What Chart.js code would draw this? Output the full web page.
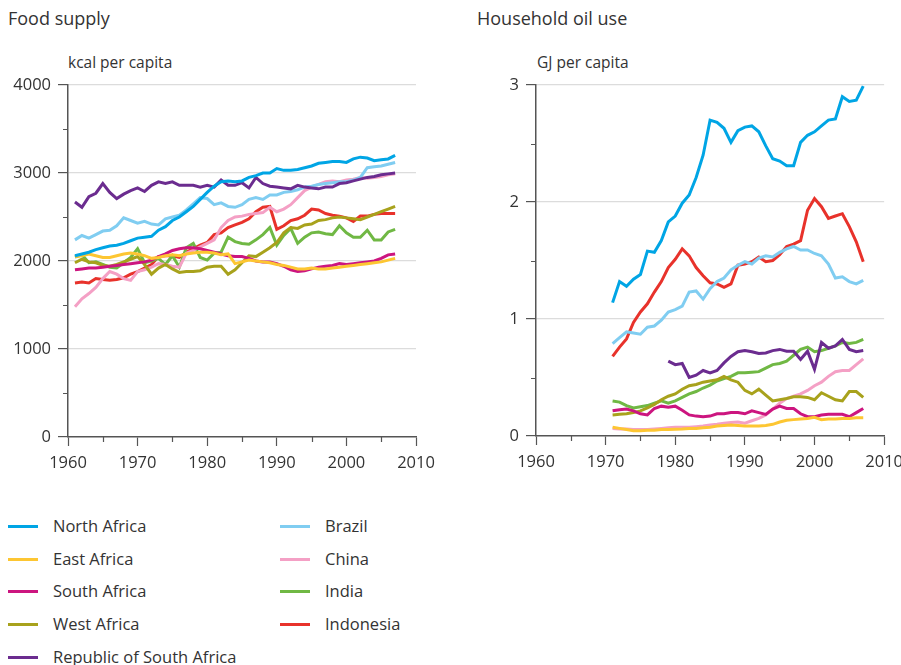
<!DOCTYPE html>
<html>
<head>
<meta charset="utf-8">
<script src="https://cdn.jsdelivr.net/npm/chart.js@4.4.1/dist/chart.umd.min.js"></script>
<style>
body { margin: 0; width: 901px; height: 665px; overflow: hidden; background: #fff;
       font-family: "Open Sans", sans-serif; color: #333; position: relative; }
.title { position: absolute; font-size: 18px; line-height: 24px; }
.unit { position: absolute; font-size: 15.5px; line-height: 20px; }
canvas { position: absolute; top: 0; }
.leg { position: absolute; font-size: 16.5px; line-height: 22px; white-space: nowrap; }
.leg span { position: absolute; top: 10px; width: 30px; height: 3px; }
</style>
</head>
<body>
<div class="title" style="left:8px;top:6px">Food supply</div>
<div class="title" style="left:477px;top:6px">Household oil use</div>
<div class="unit" style="left:68px;top:52px">kcal per capita</div>
<div class="unit" style="left:537px;top:52px">GJ per capita</div>
<canvas id="foodChart" width="460" height="490" style="left:0"></canvas>
<canvas id="oilChart" width="450" height="490" style="left:460px"></canvas>
<div id="legend"></div>
<script>
var names = ["North Africa", "East Africa", "South Africa", "West Africa", "Republic of South Africa",
             "Brazil", "China", "India", "Indonesia"];
var colors = ["#00a5e5", "#fdc632", "#cc157f", "#a8a21c", "#6b2c8f",
              "#80cdf1", "#f4a0c5", "#70b844", "#e8322b"];

var foodYears = [1961, 1962, 1963, 1964, 1965, 1966, 1967, 1968, 1969, 1970,
    1971, 1972, 1973, 1974, 1975, 1976, 1977, 1978, 1979, 1980,
    1981, 1982, 1983, 1984, 1985, 1986, 1987, 1988, 1989, 1990,
    1991, 1992, 1993, 1994, 1995, 1996, 1997, 1998, 1999, 2000,
    2001, 2002, 2003, 2004, 2005, 2006, 2007];

// kcal per capita
var foodNorthAfrica = [2060, 2080, 2100, 2130, 2150, 2170, 2180, 2200, 2230, 2260,
    2270, 2280, 2350, 2390, 2460, 2500, 2560, 2620, 2700, 2780,
    2850, 2900, 2910, 2900, 2910, 2950, 2970, 3000, 3000, 3050,
    3030, 3030, 3040, 3060, 3080, 3110, 3120, 3130, 3130, 3120,
    3160, 3180, 3170, 3140, 3150, 3160, 3200];
var foodEastAfrica = [2050, 2060, 2080, 2060, 2040, 2040, 2060, 2080, 2090, 2080,
    2060, 2030, 2040, 2060, 2070, 2060, 2080, 2090, 2100, 2100,
    2090, 2070, 2080, 1970, 1990, 2010, 2000, 1990, 1980, 1960,
    1950, 1930, 1910, 1910, 1920, 1910, 1910, 1920, 1930, 1940,
    1950, 1960, 1970, 1980, 1990, 2010, 2030];
var foodSouthAfrica = [1900, 1910, 1920, 1920, 1930, 1940, 1950, 1960, 1970, 1980,
    1990, 2010, 2050, 2080, 2120, 2140, 2150, 2150, 2140, 2120,
    2100, 2080, 2060, 2050, 2050, 2030, 2000, 1990, 1990, 1970,
    1940, 1900, 1880, 1890, 1910, 1930, 1940, 1950, 1970, 1960,
    1970, 1980, 1990, 2000, 2030, 2070, 2080];
var foodWestAfrica = [1980, 2020, 1990, 1980, 1950, 1940, 1960, 1990, 2020, 2050,
    1960, 1850, 1920, 1960, 1910, 1870, 1880, 1880, 1890, 1930,
    1940, 1940, 1850, 1900, 1980, 2060, 2050, 2100, 2150, 2210,
    2320, 2380, 2370, 2410, 2420, 2460, 2470, 2490, 2500, 2490,
    2480, 2470, 2500, 2530, 2560, 2590, 2620];
var foodRSA = [2670, 2610, 2730, 2770, 2880, 2780, 2710, 2760, 2800, 2830,
    2790, 2860, 2900, 2880, 2900, 2860, 2860, 2860, 2840, 2860,
    2840, 2920, 2860, 2860, 2890, 2830, 2950, 2880, 2850, 2840,
    2830, 2820, 2860, 2840, 2830, 2820, 2840, 2840, 2880, 2890,
    2910, 2930, 2950, 2960, 2980, 2990, 3000];
var foodBrazil = [2240, 2290, 2260, 2300, 2340, 2350, 2400, 2490, 2460, 2430,
    2450, 2420, 2410, 2480, 2500, 2520, 2580, 2650, 2720, 2710,
    2640, 2660, 2620, 2610, 2640, 2700, 2720, 2700, 2750, 2750,
    2780, 2790, 2810, 2840, 2850, 2870, 2880, 2890, 2900, 2900,
    2920, 2950, 3060, 3070, 3080, 3100, 3120];
var foodChina = [1480, 1570, 1630, 1700, 1800, 1880, 1850, 1800, 1780, 1880,
    1900, 1930, 1970, 1960, 1940, 1930, 2090, 2120, 2160, 2200,
    2240, 2380, 2460, 2500, 2510, 2530, 2540, 2550, 2610, 2560,
    2590, 2640, 2720, 2800, 2840, 2870, 2900, 2910, 2900, 2920,
    2930, 2950, 2940, 2950, 2960, 2980, 2990];
var foodIndia = [2045, 2070, 1980, 1990, 1960, 1930, 1920, 1980, 2040, 2140,
    1980, 2000, 2030, 1960, 2060, 1930, 2150, 2200, 2040, 2010,
    2090, 2100, 2270, 2220, 2200, 2190, 2240, 2300, 2380, 2180,
    2290, 2370, 2200, 2270, 2320, 2330, 2310, 2300, 2400, 2320,
    2270, 2270, 2350, 2240, 2240, 2330, 2360];
var foodIndonesia = [1750, 1760, 1750, 1800, 1790, 1780, 1790, 1810, 1850, 1880,
    1920, 1960, 2050, 2060, 2060, 2040, 2100, 2140, 2180, 2210,
    2300, 2320, 2380, 2410, 2440, 2480, 2560, 2610, 2620, 2360,
    2400, 2460, 2480, 2520, 2590, 2580, 2540, 2520, 2510, 2490,
    2450, 2510, 2510, 2530, 2540, 2540, 2540];

var oilYears = [1971, 1972, 1973, 1974, 1975, 1976, 1977, 1978, 1979, 1980,
    1981, 1982, 1983, 1984, 1985, 1986, 1987, 1988, 1989, 1990,
    1991, 1992, 1993, 1994, 1995, 1996, 1997, 1998, 1999, 2000,
    2001, 2002, 2003, 2004, 2005, 2006, 2007];

// GJ per capita
var oilNorthAfrica = [1.14, 1.32, 1.28, 1.34, 1.38, 1.58, 1.57, 1.67, 1.83, 1.88,
    1.99, 2.06, 2.21, 2.40, 2.70, 2.68, 2.63, 2.51, 2.61, 2.64,
    2.65, 2.60, 2.48, 2.37, 2.35, 2.31, 2.31, 2.51, 2.57, 2.60,
    2.65, 2.70, 2.71, 2.90, 2.86, 2.87, 2.99];
var oilEastAfrica = [0.075, 0.065, 0.055, 0.045, 0.045, 0.05, 0.05, 0.055, 0.055, 0.057,
    0.06, 0.065, 0.065, 0.07, 0.075, 0.085, 0.09, 0.095, 0.09, 0.085,
    0.085, 0.085, 0.09, 0.10, 0.12, 0.135, 0.14, 0.145, 0.15, 0.16,
    0.14, 0.145, 0.145, 0.15, 0.15, 0.155, 0.155];
var oilSouthAfrica = [0.215, 0.225, 0.23, 0.215, 0.19, 0.18, 0.235, 0.255, 0.245, 0.255,
    0.22, 0.18, 0.17, 0.165, 0.17, 0.19, 0.19, 0.20, 0.20, 0.19,
    0.215, 0.20, 0.185, 0.23, 0.255, 0.235, 0.235, 0.19, 0.165, 0.165,
    0.18, 0.185, 0.185, 0.185, 0.165, 0.20, 0.235];
var oilWestAfrica = [0.18, 0.185, 0.19, 0.20, 0.215, 0.24, 0.27, 0.31, 0.34, 0.36,
    0.40, 0.43, 0.44, 0.46, 0.47, 0.48, 0.51, 0.48, 0.46, 0.39,
    0.36, 0.40, 0.35, 0.30, 0.31, 0.32, 0.335, 0.335, 0.33, 0.31,
    0.37, 0.34, 0.31, 0.30, 0.38, 0.38, 0.33];
var oilRSA = [null, null, null, null, null, null, null, null, 0.64, 0.61,
    0.62, 0.50, 0.52, 0.56, 0.54, 0.56, 0.625, 0.68, 0.72, 0.73,
    0.72, 0.705, 0.71, 0.73, 0.74, 0.725, 0.725, 0.655, 0.725, 0.57,
    0.80, 0.75, 0.77, 0.825, 0.74, 0.72, 0.73];
var oilBrazil = [0.79, 0.84, 0.89, 0.88, 0.87, 0.93, 0.94, 0.99, 1.06, 1.08,
    1.11, 1.23, 1.24, 1.17, 1.26, 1.32, 1.35, 1.42, 1.46, 1.49,
    1.47, 1.52, 1.54, 1.53, 1.57, 1.60, 1.62, 1.59, 1.59, 1.56,
    1.54, 1.47, 1.35, 1.36, 1.32, 1.30, 1.33];
var oilChina = [0.065, 0.06, 0.06, 0.055, 0.055, 0.055, 0.06, 0.065, 0.07, 0.075,
    0.075, 0.075, 0.08, 0.085, 0.095, 0.10, 0.11, 0.115, 0.12, 0.11,
    0.13, 0.15, 0.18, 0.23, 0.28, 0.32, 0.34, 0.36, 0.39, 0.43,
    0.46, 0.51, 0.55, 0.56, 0.56, 0.61, 0.66];
var oilIndia = [0.30, 0.29, 0.26, 0.24, 0.25, 0.26, 0.28, 0.30, 0.28, 0.30,
    0.33, 0.36, 0.38, 0.41, 0.435, 0.47, 0.49, 0.51, 0.54, 0.54,
    0.545, 0.55, 0.58, 0.61, 0.62, 0.64, 0.69, 0.74, 0.76, 0.72,
    0.73, 0.75, 0.77, 0.80, 0.79, 0.80, 0.825];
var oilIndonesia = [0.68, 0.76, 0.83, 0.97, 1.06, 1.13, 1.23, 1.32, 1.44, 1.51,
    1.60, 1.54, 1.44, 1.37, 1.31, 1.30, 1.27, 1.30, 1.46, 1.47,
    1.49, 1.53, 1.49, 1.50, 1.55, 1.62, 1.64, 1.67, 1.93, 2.03,
    1.96, 1.86, 1.88, 1.90, 1.79, 1.66, 1.49];

var foodSeries = [foodNorthAfrica, foodEastAfrica, foodSouthAfrica, foodWestAfrica, foodRSA,
                  foodBrazil, foodChina, foodIndia, foodIndonesia];
var oilSeries = [oilNorthAfrica, oilEastAfrica, oilSouthAfrica, oilWestAfrica, oilRSA,
                 oilBrazil, oilChina, oilIndia, oilIndonesia];

var axisColor = "#555";
var tickFont = { family: "Open Sans", size: 16.5 };

function isMajor(v, step) {
    return Math.abs(v - Math.round(v / step) * step) < 1e-6;
}

// short ticks for the in-between values (5 years, half units)
var minorTicks = {
    id: "minorTicks",
    afterDraw: function (chart) {
        var ctx = chart.ctx, xs = chart.scales.x, ys = chart.scales.y;
        var yMajor = chart.options.plugins.minorTicks.yMajor;
        ctx.save();
        ctx.strokeStyle = axisColor;
        ctx.lineWidth = 1.2;
        ctx.beginPath();
        xs.ticks.forEach(function (t) {
            if (!isMajor(t.value, 10)) {
                var px = Math.round(xs.getPixelForValue(t.value)) + 0.5;
                ctx.moveTo(px, xs.top);
                ctx.lineTo(px, xs.top + 5);
            }
        });
        ys.ticks.forEach(function (t) {
            if (!isMajor(t.value, yMajor)) {
                var py = Math.round(ys.getPixelForValue(t.value)) + 0.5;
                ctx.moveTo(ys.right - 5, py);
                ctx.lineTo(ys.right, py);
            }
        });
        ctx.stroke();
        ctx.restore();
    }
};

function makeChart(id, years, series, yMax, yStep, yMajor, yWidth, xHeight, padRight) {
    var datasets = series.map(function (vals, i) {
        return {
            label: names[i],
            data: years.map(function (yr, j) { return { x: yr, y: vals[j] }; }),
            borderColor: colors[i],
            borderWidth: 3,
            pointRadius: 0,
            fill: false,
            tension: 0,
            spanGaps: false
        };
    });
    return new Chart(document.getElementById(id).getContext("2d"), {
        type: "line",
        data: { datasets: datasets },
        options: {
            responsive: false,
            animation: false,
            layout: { padding: { top: 85, right: padRight, bottom: 0, left: 0 } },
            plugins: {
                legend: { display: false },
                tooltip: { enabled: false },
                minorTicks: { yMajor: yMajor }
            },
            scales: {
                x: {
                    type: "linear",
                    min: 1960,
                    max: 2010,
                    afterFit: function (s) { s.height = xHeight; },
                    ticks: {
                        stepSize: 5,
                        autoSkip: false,
                        maxRotation: 0,
                        padding: 7,
                        color: "#333",
                        font: tickFont,
                        callback: function (v) { return isMajor(v, 10) ? String(v) : ""; }
                    },
                    grid: {
                        drawOnChartArea: false,
                        tickLength: 9,
                        tickWidth: 1.2,
                        tickColor: function (c) {
                            return c.tick && isMajor(c.tick.value, 10) ? axisColor : "rgba(0,0,0,0)";
                        }
                    },
                    border: { color: axisColor, width: 1.5 }
                },
                y: {
                    min: 0,
                    max: yMax,
                    afterFit: function (s) { s.width = yWidth; },
                    ticks: {
                        stepSize: yStep,
                        padding: 7,
                        color: "#333",
                        font: tickFont,
                        callback: function (v) { return isMajor(v, yMajor) ? String(v) : ""; }
                    },
                    grid: {
                        tickLength: 10,
                        tickWidth: 1.2,
                        lineWidth: 1.2,
                        color: function (c) {
                            return c.tick && isMajor(c.tick.value, yMajor) && c.tick.value > 0 ? "#dcdcdc" : "rgba(0,0,0,0)";
                        },
                        tickColor: function (c) {
                            return c.tick && isMajor(c.tick.value, yMajor) ? axisColor : "rgba(0,0,0,0)";
                        }
                    },
                    border: { color: axisColor, width: 1.5 }
                }
            }
        },
        plugins: [minorTicks]
    });
}

makeChart("foodChart", foodYears, foodSeries, 4000, 500, 1000, 68, 53, 44);
makeChart("oilChart", oilYears, oilSeries, 3, 0.5, 1, 76, 54, 24);

// legend, two columns like the original figure
var legendEl = document.getElementById("legend");
names.forEach(function (name, i) {
    var col = i < 5 ? 0 : 1;
    var row = col === 0 ? i : i - 5;
    var item = document.createElement("div");
    item.className = "leg";
    item.style.left = (col === 0 ? 8 : 280) + "px";
    item.style.top = (515 + row * 32.7) + "px";
    item.innerHTML = '<span style="left:0;background:' + colors[i] + '"></span>' +
        '<div style="position:absolute;left:45px;top:0">' + name + '</div>';
    legendEl.appendChild(item);
});
</script>
</body>
</html>
